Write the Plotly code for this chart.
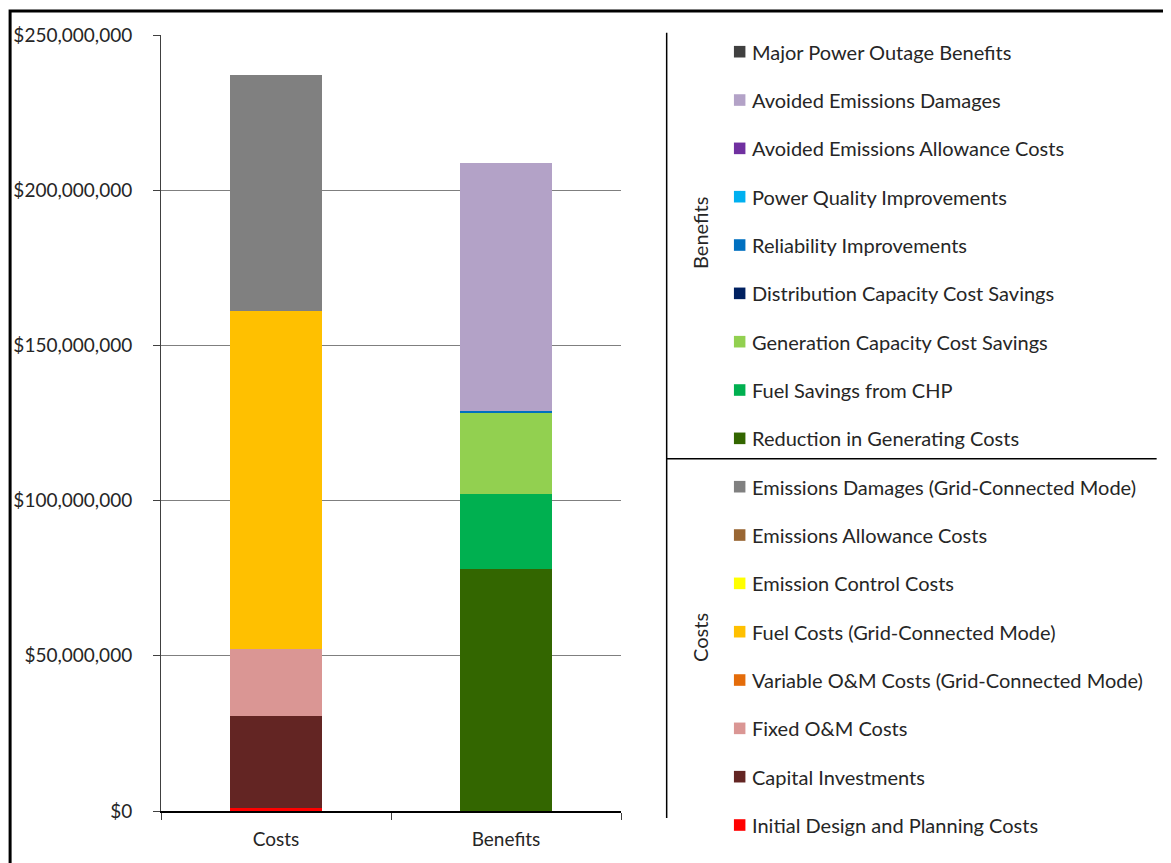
import plotly.graph_objects as go

# ---- data ----
categories = ["Costs", "Benefits"]

cost_names = [
    "Initial Design and Planning Costs",
    "Capital Investments",
    "Fixed O&M Costs",
    "Variable O&M Costs (Grid-Connected Mode)",
    "Fuel Costs (Grid-Connected Mode)",
    "Emission Control Costs",
    "Emissions Allowance Costs",
    "Emissions Damages (Grid-Connected Mode)",
]
cost_values = [1.0e6, 29.7e6, 21.4e6, 0.0, 109.1e6, 0.0, 0.0, 75.9e6]
cost_colors = ["#FF0000", "#632523", "#DA9694", "#E46C0A", "#FFC000",
               "#FFFF00", "#996633", "#808080"]

benefit_names = [
    "Reduction in Generating Costs",
    "Fuel Savings from CHP",
    "Generation Capacity Cost Savings",
    "Distribution Capacity Cost Savings",
    "Reliability Improvements",
    "Power Quality Improvements",
    "Avoided Emissions Allowance Costs",
    "Avoided Emissions Damages",
    "Major Power Outage Benefits",
]
benefit_values = [78.0e6, 24.2e6, 26.2e6, 0.0, 0.4e6, 0.0, 0.0, 79.9e6, 0.0]
benefit_colors = ["#336600", "#00B050", "#92D050", "#002060", "#0070C0",
                  "#00B0F0", "#7030A0", "#B3A2C7", "#404040"]

y_range = [0, 250e6]
y_dtick = 50e6

# ---- layout geometry (pixels, in screenshot coordinates) ----
W, H = 1171, 863
OFF = 8  # page body margin
L, R, T, B = 160.7 - OFF, 621.0 - OFF, 35.0 - OFF, 811.0 - OFF
FONT = "Lato"
FS = 20
TXT = "#262626"


def px(xp):
    return (xp - OFF - L) / (R - L)


def py(yp):
    return (B - (yp - OFF)) / (B - T)


fig = go.Figure()
for n, v, c in zip(cost_names, cost_values, cost_colors):
    fig.add_trace(go.Bar(x=[categories[0]], y=[v], name=n, marker_color=c,
                         marker_line_width=0))
for n, v, c in zip(benefit_names, benefit_values, benefit_colors):
    fig.add_trace(go.Bar(x=[categories[1]], y=[v], name=n, marker_color=c,
                         marker_line_width=0))

fig.update_layout(
    width=W, height=H,
    margin=dict(l=L, r=W - R, t=T, b=H - B, pad=0, autoexpand=False),
    barmode="stack", bargap=0.6,
    showlegend=False,
    plot_bgcolor="white", paper_bgcolor="white",
    font=dict(family=FONT, size=FS, color=TXT),
)
fig.update_xaxes(
    categoryorder="array", categoryarray=categories,
    showline=True, linecolor="black", linewidth=1.5,
    ticks="outside", tickson="boundaries", ticklen=7, tickcolor="#404040",
    showgrid=False, tickfont=dict(size=FS - 1, color=TXT),
    ticklabelstandoff=10, automargin=False,
    mirror=False,
)
fig.update_yaxes(
    range=y_range, dtick=y_dtick, tickprefix="$", tickformat=",.0f",
    showline=True, linecolor="#404040", linewidth=1,
    ticks="outside", ticklen=7, tickcolor="#404040",
    showgrid=True, gridcolor="#7F7F7F", gridwidth=1,
    zeroline=False, tickfont=dict(size=FS - 1, color=TXT),
    ticklabelstandoff=17, automargin=False,
)

shapes = []
annotations = []

# outer border
shapes.append(dict(type="rect", xref="paper", yref="paper",
                   x0=px(9.7), x1=px(1300), y0=py(11), y1=py(1000),
                   line=dict(color="black", width=3), fillcolor="rgba(0,0,0,0)",
                   layer="above"))
# legend group lines
shapes.append(dict(type="line", xref="paper", yref="paper",
                   x0=px(666.7), x1=px(666.7), y0=py(32.7), y1=py(818),
                   line=dict(color="black", width=1.5)))
shapes.append(dict(type="line", xref="paper", yref="paper",
                   x0=px(666.7), x1=px(1157), y0=py(458.7), y1=py(458.7),
                   line=dict(color="black", width=1.5)))

legend_benefits = list(reversed(benefit_names))
legend_benefit_colors = list(reversed(benefit_colors))
legend_costs = list(reversed(cost_names))
legend_cost_colors = list(reversed(cost_colors))

step = 48.33
items = []
for i, (n, c) in enumerate(zip(legend_benefits, legend_benefit_colors)):
    items.append((n, c, 51.7 + i * step))
for i, (n, c) in enumerate(zip(legend_costs, legend_cost_colors)):
    items.append((n, c, 486.7 + i * step))

for n, c, yc in items:
    shapes.append(dict(type="rect", xref="paper", yref="paper",
                       x0=px(734), x1=px(745.5), y0=py(yc - 5.8), y1=py(yc + 5.8),
                       line=dict(width=0), fillcolor=c))
    annotations.append(dict(xref="paper", yref="paper", x=px(750), y=py(yc),
                            text=n, showarrow=False, xanchor="left",
                            yanchor="middle", font=dict(size=FS, color=TXT)))

annotations.append(dict(xref="paper", yref="paper", x=px(700), y=py(233),
                        text="Benefits", textangle=-90, showarrow=False,
                        xanchor="center", yanchor="middle",
                        font=dict(size=FS, color=TXT)))
annotations.append(dict(xref="paper", yref="paper", x=px(700), y=py(637),
                        text="Costs", textangle=-90, showarrow=False,
                        xanchor="center", yanchor="middle",
                        font=dict(size=FS, color=TXT)))

fig.update_layout(shapes=shapes, annotations=annotations)
fig.write_html("out.html")
